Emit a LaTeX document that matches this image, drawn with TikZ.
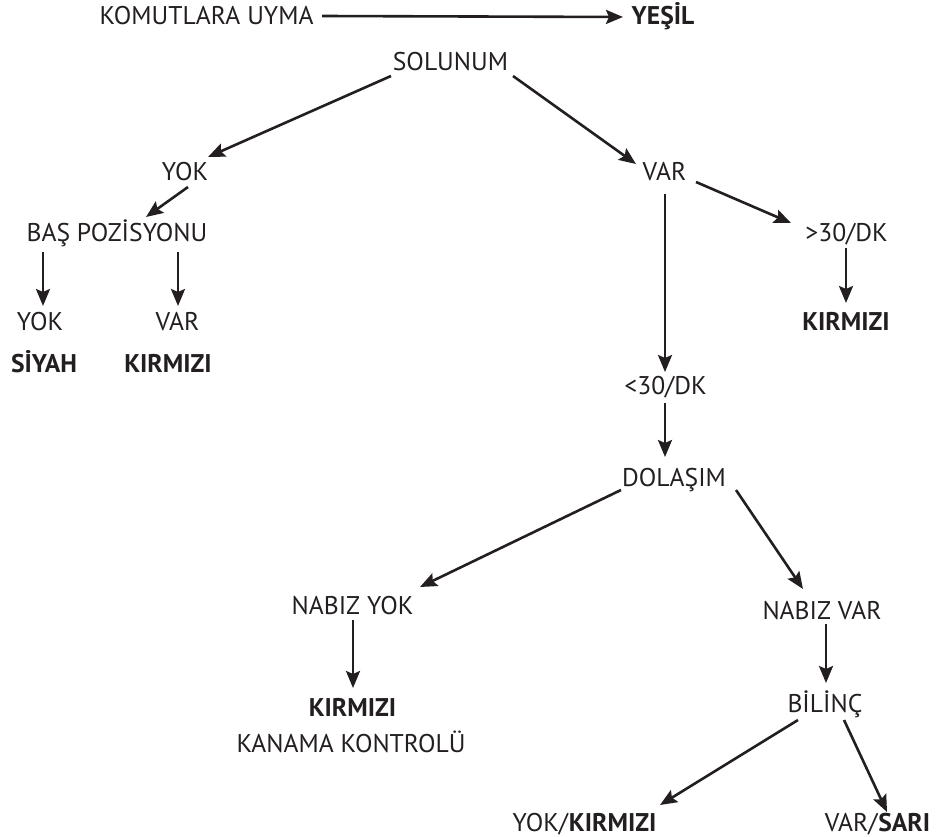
\documentclass[tikz,border=0pt]{standalone}
\usepackage{fontspec}
\setmainfont{PT Sans}
\usetikzlibrary{arrows.meta}
\definecolor{ink}{HTML}{231F20}
\tikzset{
  lbl/.style={inner sep=0pt, text height=17.5pt, text depth=0pt, anchor=center, text=ink,
    font=\fontsize{25.6}{29}\selectfont},
  bld/.style={lbl, font=\fontsize{25.6}{29}\selectfont\bfseries},
  arr/.style={draw=ink, line width=2.6pt, -{Stealth[length=17pt,width=14pt,inset=3pt]}}
}
\begin{document}
\begin{tikzpicture}[x=1pt,y=-1pt]
\useasboundingbox (0,0) rectangle (938,837);
% nodes
\node[lbl] (kom) at (206.5,16) {KOMUTLARA UYMA};
\node[bld] (yes) at (663,16) {YEŞİL};
\node[lbl] (sol) at (450.5,62) {SOLUNUM};
\node[lbl] (yok) at (185,171.5) {YOK};
\node[lbl] (var) at (664.5,171.5) {VAR};
\node[lbl] (bas) at (117,233) {BAŞ POZİSYONU};
\node[lbl] (yok2) at (40,322) {YOK};
\node[lbl] (var2) at (177.5,322) {VAR};
\node[bld] (siyah) at (44,364) {SİYAH};
\node[bld] (kir1) at (168,364) {KIRMIZI};
\node[lbl] (gt30) at (846.5,233) {>30/DK};
\node[bld] (kir2) at (846,321.5) {KIRMIZI};
\node[lbl] (lt30) at (665.5,386) {<30/DK};
\node[lbl] (dol) at (674,477.5) {DOLAŞIM};
\node[lbl] (nyok) at (352.5,606) {NABIZ YOK};
\node[bld] (kir3) at (352.5,707.5) {KIRMIZI};
\node[lbl] (kan) at (351,743.5) {KANAMA KONTROLÜ};
\node[lbl] (nvar) at (822,611) {NABIZ VAR};
\node[lbl] (bil) at (825,704) {BİLİNÇ};
\node[lbl] (yokkir) at (584.5,822.5) {YOK/\textbf{KIRMIZI}};
\node[lbl] (varsari) at (877.5,822.5) {VAR/\textbf{SARI}};
% connectors
\draw[arr] ([shift={(115.5,0)}]kom.center) -- ([shift={(-40,1)}]yes.center);
\draw[arr] ([shift={(-59.5,14)}]sol.center) -- ([shift={(23,-14.5)}]yok.center);
\draw[arr] ([shift={(62.5,14)}]sol.center) -- ([shift={(-28.5,-7.5)}]var.center);
\draw[arr] ([shift={(3,15.5)}]yok.center) -- ([shift={(29,-16)}]bas.center);
\draw[arr] ([shift={(-74,19)}]bas.center) -- ([shift={(3,-16)}]yok2.center);
\draw[arr] ([shift={(61,19)}]bas.center) -- ([shift={(0.5,-16)}]var2.center);
\draw[arr] ([shift={(31.5,10.5)}]var.center) -- ([shift={(-55.5,-10)}]gt30.center);
\draw[arr] ([shift={(0.5,22.5)}]var.center) -- ([shift={(-0.5,-14)}]lt30.center);
\draw[arr] ([shift={(-0.5,15)}]gt30.center) -- ([shift={(0,-18.5)}]kir2.center);
\draw[arr] ([shift={(-0.5,17)}]lt30.center) -- ([shift={(-9,-20.5)}]dol.center);
\draw[arr] ([shift={(-53,12.5)}]dol.center) -- ([shift={(67.5,-19)}]nyok.center);
\draw[arr] ([shift={(62,12.5)}]dol.center) -- ([shift={(-19,-22)}]nvar.center);
\draw[arr] ([shift={(0.5,14)}]nyok.center) -- ([shift={(0.5,-19.5)}]kir3.center);
\draw[arr] ([shift={(4,13)}]nvar.center) -- ([shift={(1,-21)}]bil.center);
\draw[arr] ([shift={(-27,16)}]bil.center) -- ([shift={(75.5,-17.5)}]yokkir.center);
\draw[arr] ([shift={(19,16)}]bil.center) -- ([shift={(9.5,-10.5)}]varsari.center);
\end{tikzpicture}
\end{document}
